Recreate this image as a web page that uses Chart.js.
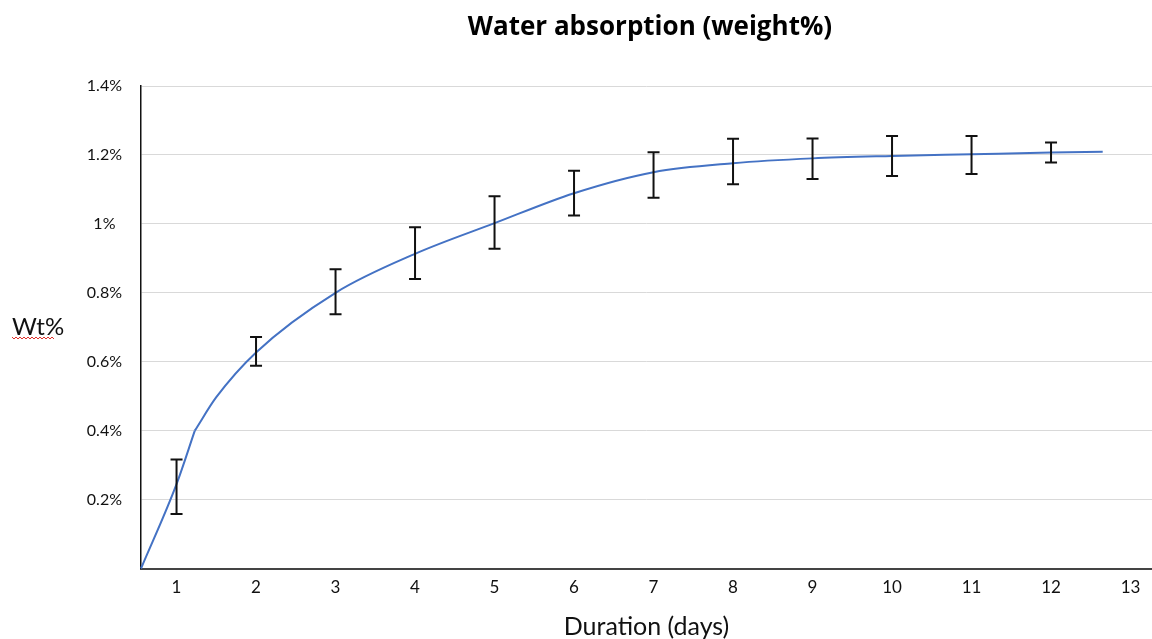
<!DOCTYPE html>
<html><head><meta charset="utf-8">
<script src="https://cdn.jsdelivr.net/npm/chart.js@4.4.1/dist/chart.umd.min.js"></script>
<style>html,body{margin:0;padding:0;background:#fff}</style>
</head><body>
<canvas id="c" width="1152" height="639"></canvas>
<script>
const chartTitle = 'Water absorption (weight%)';
const xAxisTitle = 'Duration (days)';
const yAxisTitle = 'Wt%';
const xTicks = [1, 2, 3, 4, 5, 6, 7, 8, 9, 10, 11, 12, 13];
const yTickLabels = ['', '0.2%', '0.4%', '0.6%', '0.8%', '1%', '1.2%', '1.4%'];

// measured means and error (± in weight %)
const days = [1, 2, 3, 4, 5, 6, 7, 8, 9, 10, 11, 12];
const meanWt = [0.237, 0.630, 0.803, 0.915, 1.004, 1.089, 1.142, 1.181, 1.189, 1.197, 1.200, 1.207];
const errWt = [0.079, 0.042, 0.065, 0.075, 0.076, 0.065, 0.066, 0.066, 0.059, 0.058, 0.055, 0.029];

// fitted curve (two pieces: initial rise, then saturation)
const fitStartX = [0.553, 1, 1.23];
const fitStartY = [0, 0.245, 0.40];
const fitCurveX = [1.23, 1.5, 2, 3, 4, 5, 6, 7, 8, 9, 10, 11, 12, 12.65];
const fitCurveY = [0.40, 0.497, 0.627, 0.800, 0.913, 1.002, 1.089, 1.150, 1.176, 1.190, 1.197, 1.202, 1.207, 1.209];

const FONT = 'Lato, "Open Sans", sans-serif';
const TITLE_FONT = '"Open Sans", Lato, sans-serif';

const extras = {
  id: 'extras',
  afterDatasetsDraw(chart) {
    const {ctx, scales: {x, y}} = chart;
    ctx.save();
    ctx.strokeStyle = '#111';
    ctx.lineWidth = 2;
    ctx.lineCap = 'butt';
    const cap = 6;
    days.forEach((d, i) => {
      const px = x.getPixelForValue(d);
      const t = y.getPixelForValue(meanWt[i] + errWt[i]);
      const b = y.getPixelForValue(meanWt[i] - errWt[i]);
      ctx.beginPath();
      ctx.moveTo(px, t); ctx.lineTo(px, b);
      ctx.moveTo(px - cap, t); ctx.lineTo(px + cap, t);
      ctx.moveTo(px - cap, b); ctx.lineTo(px + cap, b);
      ctx.stroke();
    });
    ctx.restore();
  },
  afterDraw(chart) {
    const {ctx} = chart;
    ctx.save();
    ctx.fillStyle = '#000';
    ctx.textAlign = 'center';
    ctx.textBaseline = 'middle';
    ctx.font = 'bold 26px ' + TITLE_FONT;
    ctx.fillText(chartTitle, 650, 28);
    ctx.textAlign = 'left';
    ctx.textBaseline = 'alphabetic';
    ctx.font = '24px ' + FONT;
    ctx.fillStyle = '#111';
    ctx.fillText(yAxisTitle, 12, 335);
    const w = ctx.measureText(yAxisTitle).width;
    ctx.strokeStyle = '#e0302a';
    ctx.lineWidth = 1;
    ctx.beginPath();
    const y0 = 338;
    for (let xx = 12, k = 0; xx <= 12 + w - 10; xx += 2, k++) {
      const yy = y0 + (k % 2 === 0 ? -1 : 1);
      if (k === 0) ctx.moveTo(xx, yy); else ctx.lineTo(xx, yy);
    }
    ctx.stroke();
    ctx.restore();
  }
};

new Chart(document.getElementById('c'), {
  type: 'line',
  data: {
    datasets: [
      {
        data: fitStartX.map((v, i) => ({x: v, y: fitStartY[i]})),
        borderColor: '#4472C4', borderWidth: 2, pointRadius: 0,
        cubicInterpolationMode: 'monotone', fill: false, clip: false
      },
      {
        data: fitCurveX.map((v, i) => ({x: v, y: fitCurveY[i]})),
        borderColor: '#4472C4', borderWidth: 2, pointRadius: 0,
        cubicInterpolationMode: 'monotone', fill: false, clip: false
      }
    ]
  },
  options: {
    responsive: false,
    animation: false,
    layout: {padding: {top: 86, left: 0, right: 0, bottom: 0}},
    plugins: {legend: {display: false}, tooltip: {enabled: false}, title: {display: false}},
    scales: {
      x: {
        type: 'linear', min: 0.553, max: 13.27,
        afterBuildTicks: s => { s.ticks = xTicks.map(v => ({value: v})); },
        ticks: {
          callback: v => String(v), autoSkip: false, maxRotation: 0,
          font: {family: FONT, size: 17}, color: '#111', padding: 9
        },
        grid: {display: false, drawTicks: false},
        border: {display: true, color: '#444', width: 2},
        title: {
          display: true, text: xAxisTitle, color: '#111',
          font: {family: FONT, size: 25, lineHeight: 1}, padding: {top: 0, bottom: 0}
        },
        afterFit: s => { s.height = 70.5; }
      },
      y: {
        min: 0, max: 1.4,
        ticks: {
          stepSize: 0.2, callback: (v, i) => yTickLabels[i],
          font: {family: FONT, size: 16}, color: '#111', padding: 19, crossAlign: 'center'
        },
        grid: {
          drawTicks: false, lineWidth: 1,
          color: c => (c.tick && c.tick.value === 0) ? 'rgba(0,0,0,0)' : '#d9d9d9'
        },
        border: {display: true, color: '#111', width: 1.5},
        afterFit: s => { s.width = 141; }
      }
    }
  },
  plugins: [extras]
});
</script>
</body></html>
